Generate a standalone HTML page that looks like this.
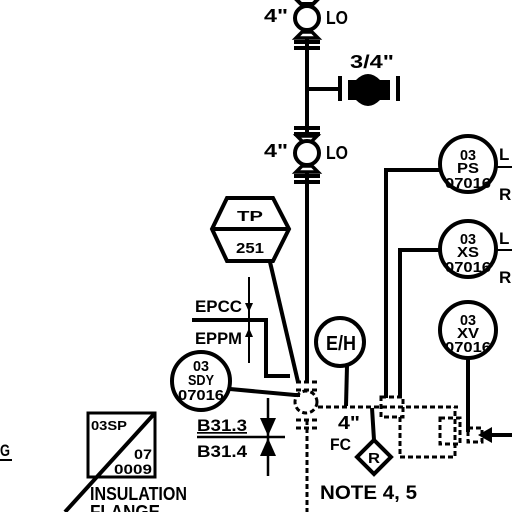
<!DOCTYPE html>
<html><head><style>body{margin:0;background:#fff}svg{display:block}text{font-family:"Liberation Sans",sans-serif;font-weight:bold;fill:#000}</style></head><body>
<svg width="512" height="512" viewBox="0 0 512 512" xmlns="http://www.w3.org/2000/svg">
<g stroke="#000" stroke-width="4" fill="none">
<line x1="307" y1="0" x2="307" y2="383"/>
<!-- top valve -->
<path d="M295 -2 L319 -2 L313 4 L301 4 Z" fill="#fff"/>
<circle cx="307" cy="18" r="12" fill="#fff"/>
<path d="M296 38 L318 38 L312 32 L302 32 Z" fill="#fff" stroke-width="3.5"/>
<line x1="294" y1="42" x2="320" y2="42"/><line x1="294" y1="48" x2="320" y2="48"/>
<!-- branch -->
<line x1="307" y1="89" x2="338" y2="89"/>
<line x1="340" y1="76" x2="340" y2="101"/>
<line x1="398" y1="76" x2="398" y2="101"/>
<!-- second valve -->
<line x1="294" y1="128" x2="320" y2="128"/><line x1="294" y1="134" x2="320" y2="134"/>
<path d="M297 136 L317 136 L311 142 L303 142 Z" fill="#fff" stroke-width="3.5"/>
<circle cx="307" cy="153" r="12" fill="#fff"/>
<path d="M296 172 L318 172 L312 166 L302 166 Z" fill="#fff" stroke-width="3.5"/>
<line x1="294" y1="176" x2="320" y2="176"/><line x1="294" y1="182" x2="320" y2="182"/>
<!-- TP -->
<polygon points="227,198 273,198 289,229 273,261 227,261 212,229"/>
<line x1="212" y1="229" x2="289" y2="229"/>
<line x1="270" y1="262" x2="298" y2="382"/>
<!-- EPCC -->
<polyline points="192,320 266,320 266,376 290,376"/>
<line x1="249" y1="277" x2="249" y2="363" stroke-width="2"/>
<circle cx="201" cy="381" r="29"/>
<polyline points="230,389 295,395 300,395"/>
<line x1="197" y1="437" x2="285" y2="437" stroke-width="2.5"/>
<line x1="268" y1="398" x2="268" y2="476" stroke-width="2.5"/>
<circle cx="340" cy="342" r="24"/>
<line x1="347" y1="366" x2="346" y2="406"/>
<line x1="372" y1="408" x2="374" y2="440"/>
<polygon points="374,440 391,457 374,474 357,457"/>
<polyline points="440,170 386,170 386,398"/>
<polyline points="440,250 400,250 400,398"/>
<circle cx="468" cy="164" r="28"/>
<circle cx="468" cy="249" r="28"/>
<circle cx="468" cy="330" r="28"/>
<line x1="468" y1="358" x2="468" y2="432"/>
<line x1="496" y1="167" x2="512" y2="167" stroke-width="2"/>
<line x1="496" y1="250" x2="512" y2="250" stroke-width="2"/>
<line x1="490" y1="435" x2="512" y2="435"/>
<rect x="88" y="413" width="67" height="64" stroke-width="3"/>
<line x1="155" y1="413" x2="65" y2="512"/>
<line x1="0" y1="460" x2="12" y2="460" stroke-width="2"/>
</g>
<path d="M348 80 L356 80 Q368 68 380 80 L390 80 L390 100 L380 100 Q368 112 356 100 L348 100 Z" fill="#000"/>
<polygon points="478,435 492,427 492,443" fill="#000"/>
<polygon points="260,418 276,418 268,436" fill="#000"/>
<polygon points="260,456 276,456 268,438" fill="#000"/>
<polygon points="245,303 253,303 249,312" fill="#000"/>
<polygon points="245,337 253,337 249,328" fill="#000"/>
<g stroke="#000" stroke-width="3" fill="none" stroke-dasharray="5,3">
<circle cx="306" cy="402" r="11"/>
<line x1="307" y1="420" x2="307" y2="512"/>
<line x1="296" y1="382" x2="318" y2="382"/><line x1="296" y1="390" x2="318" y2="390"/>
<line x1="296" y1="420" x2="318" y2="420"/><line x1="296" y1="428" x2="318" y2="428"/>
<line x1="318" y1="407" x2="458" y2="407"/>
<rect x="381" y="397" width="22" height="20"/>
<polyline points="400,417 400,457 455,457 455,407"/>
<rect x="440" y="418" width="20" height="26"/>
<rect x="468" y="428" width="14" height="14"/>
</g>
<g lengthAdjust="spacingAndGlyphs">
<text x="264" y="22" font-size="18" textLength="24" lengthAdjust="spacingAndGlyphs">4"</text>
<text x="326" y="24" font-size="18" textLength="22" lengthAdjust="spacingAndGlyphs">LO</text>
<text x="350" y="68" font-size="18" textLength="44" lengthAdjust="spacingAndGlyphs">3/4"</text>
<text x="264" y="157" font-size="18" textLength="24" lengthAdjust="spacingAndGlyphs">4"</text>
<text x="326" y="159" font-size="18" textLength="22" lengthAdjust="spacingAndGlyphs">LO</text>
<text x="237" y="221" font-size="15" textLength="26" lengthAdjust="spacingAndGlyphs">TP</text>
<text x="236" y="253" font-size="15" textLength="28" lengthAdjust="spacingAndGlyphs">251</text>
<text x="195" y="312" font-size="17" textLength="47" lengthAdjust="spacingAndGlyphs">EPCC</text>
<text x="195" y="344" font-size="17" textLength="47" lengthAdjust="spacingAndGlyphs">EPPM</text>
<text x="326" y="350" font-size="20" textLength="30" lengthAdjust="spacingAndGlyphs">E/H</text>
<text x="193" y="371" font-size="15" textLength="16" lengthAdjust="spacingAndGlyphs">03</text>
<text x="188" y="385" font-size="15" textLength="26" lengthAdjust="spacingAndGlyphs">SDY</text>
<text x="178" y="400" font-size="15" textLength="46" lengthAdjust="spacingAndGlyphs">07016</text>
<text x="197" y="431" font-size="17" textLength="50" lengthAdjust="spacingAndGlyphs" text-decoration="underline">B31.3</text>
<text x="197" y="457" font-size="17" textLength="50" lengthAdjust="spacingAndGlyphs">B31.4</text>
<text x="338" y="429" font-size="18" textLength="22" lengthAdjust="spacingAndGlyphs">4"</text>
<text x="330" y="450" font-size="17" textLength="21" lengthAdjust="spacingAndGlyphs">FC</text>
<text x="368" y="463" font-size="15" textLength="12" lengthAdjust="spacingAndGlyphs">R</text>
<text x="320" y="499" font-size="19" textLength="97" lengthAdjust="spacingAndGlyphs">NOTE 4, 5</text>
<text x="460" y="160" font-size="15" textLength="16" lengthAdjust="spacingAndGlyphs">03</text>
<text x="457" y="173" font-size="15" textLength="22" lengthAdjust="spacingAndGlyphs">PS</text>
<text x="445" y="188" font-size="15" textLength="46" lengthAdjust="spacingAndGlyphs">07016</text>
<text x="460" y="244" font-size="15" textLength="16" lengthAdjust="spacingAndGlyphs">03</text>
<text x="457" y="257" font-size="15" textLength="22" lengthAdjust="spacingAndGlyphs">XS</text>
<text x="445" y="272" font-size="15" textLength="46" lengthAdjust="spacingAndGlyphs">07016</text>
<text x="460" y="325" font-size="15" textLength="16" lengthAdjust="spacingAndGlyphs">03</text>
<text x="457" y="338" font-size="15" textLength="22" lengthAdjust="spacingAndGlyphs">XV</text>
<text x="445" y="352" font-size="15" textLength="46" lengthAdjust="spacingAndGlyphs">07016</text>
<text x="499" y="160" font-size="17">L</text>
<text x="499" y="200" font-size="17">R</text>
<text x="499" y="244" font-size="17">L</text>
<text x="499" y="283" font-size="17">R</text>
<text x="91" y="430" font-size="13" textLength="36" lengthAdjust="spacingAndGlyphs">03SP</text>
<text x="134" y="459" font-size="14" textLength="18" lengthAdjust="spacingAndGlyphs">07</text>
<text x="114" y="474" font-size="14" textLength="38" lengthAdjust="spacingAndGlyphs">0009</text>
<text x="90" y="500" font-size="18" textLength="97" lengthAdjust="spacingAndGlyphs">INSULATION</text>
<text x="90" y="518" font-size="18" textLength="70" lengthAdjust="spacingAndGlyphs">FLANGE</text>
<text x="0" y="456" font-size="17" textLength="10" lengthAdjust="spacingAndGlyphs">G</text>
</g>
</svg>
</body></html>
